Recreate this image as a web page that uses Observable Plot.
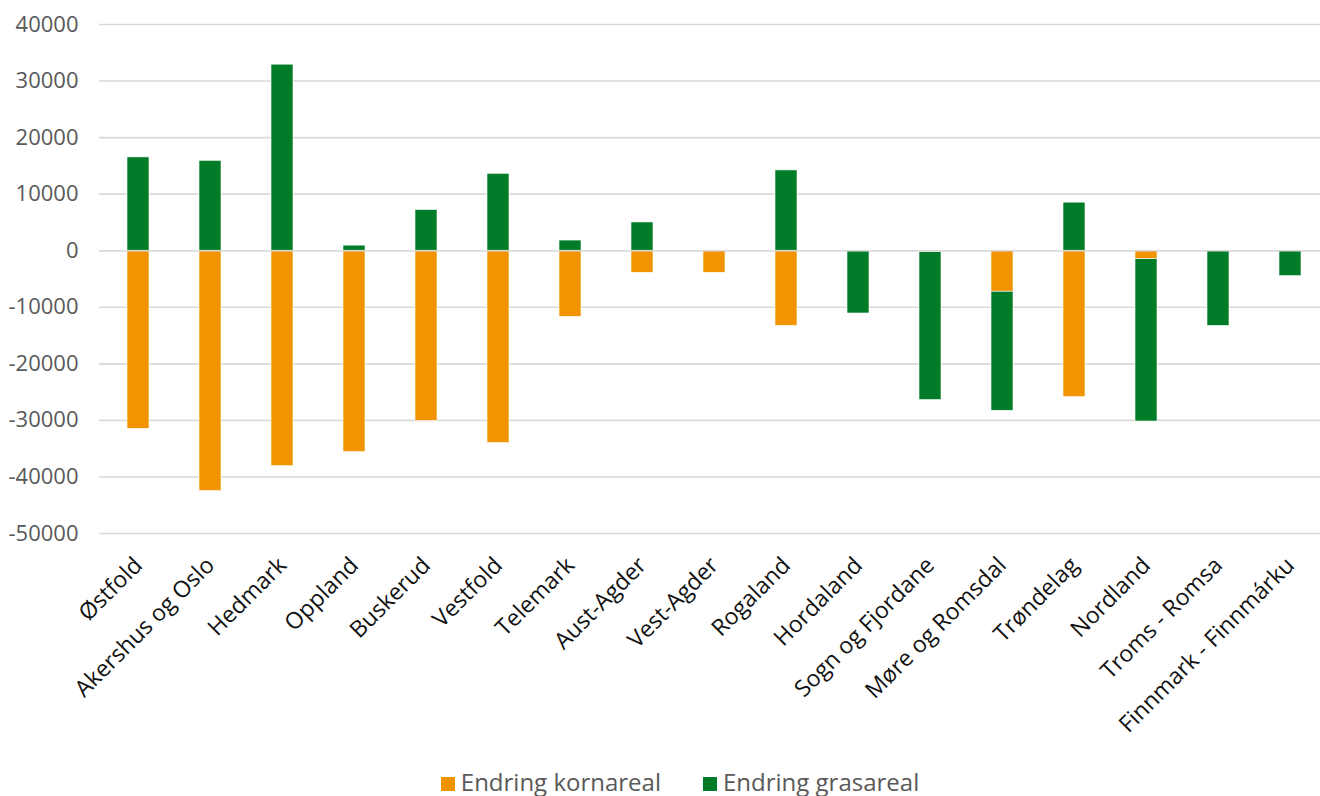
<!DOCTYPE html>
<html><head><meta charset="utf-8">
<script src="https://cdn.jsdelivr.net/npm/d3@7"></script>
<script src="https://cdn.jsdelivr.net/npm/@observablehq/plot@0.6"></script>
<style>
body{margin:0;background:#fff;font-family:"Open Sans",sans-serif;}
#legend{display:flex;justify-content:center;gap:42px;font-size:24px;line-height:33px;color:#595959;margin-top:13px;margin-left:40px}
#legend span.sw{display:inline-block;width:14px;height:14px;margin-right:6px;vertical-align:middle;position:relative;top:-1px}
</style></head><body>
<div id="chart"></div>
<div id="legend"></div>
<script>
const regions = ["Østfold","Akershus og Oslo","Hedmark","Oppland","Buskerud","Vestfold","Telemark","Aust-Agder","Vest-Agder","Rogaland","Hordaland","Sogn og Fjordane","Møre og Romsdal","Trøndelag","Nordland","Troms - Romsa","Finnmark - Finnmárku"];
const kornareal = [-31500,-42500,-38100,-35600,-30100,-34000,-11700,-3900,-3900,-13300,-100,-250,-7250,-25900,-1500,0,0];
const grasareal = [16500,15900,32900,900,7200,13600,1800,5000,0,14200,-11000,-26150,-21050,8500,-28700,-13300,-4500];
const seriesNames = ["Endring kornareal","Endring grasareal"];
const colors = ["#F29400","#007C29"];
const yTicks = [40000,30000,20000,10000,0,-10000,-20000,-30000,-40000,-50000];

const data = [];
regions.forEach((r,i)=>{
  data.push({region:r, series:seriesNames[0], value:kornareal[i]});
  data.push({region:r, series:seriesNames[1], value:grasareal[i]});
});

const plot = Plot.plot({
  width:1320, height:752,
  marginLeft:99, marginRight:-8, marginTop:24, marginBottom:219,
  style:{fontFamily:"'Open Sans', sans-serif", fontSize:"22px", color:"#595959", background:"#fff"},
  x:{domain:regions, paddingInner:0.7, paddingOuter:0.35, label:null, tickSize:0, tickRotate:-45},
  y:{domain:[-50000,40000], ticks:yTicks, label:null, tickFormat:d=>String(d)},
  color:{domain:seriesNames, range:colors},
  marks:[
    Plot.ruleY(yTicks,{stroke:"#d9d9d9", strokeWidth:1.6}),
    Plot.barY(data, Plot.stackY({x:"region", y:"value", fill:"series", order:seriesNames, stroke:"#fff", strokeWidth:0.6})),
    Plot.ruleY([0],{stroke:"#d9d9d9", strokeWidth:1.6}),
    Plot.axisY({ticks:yTicks, tickSize:0, tickPadding:21, tickFormat:d=>String(d), fontSize:22, fill:"#595959", label:null}),
    Plot.axisX({tickSize:0, tickRotate:-45, tickPadding:28, fontSize:23, fill:"#111", label:null})
  ]
});
document.getElementById("chart").appendChild(plot);

const lg = document.getElementById("legend");
seriesNames.forEach((n,i)=>{
  const d = document.createElement("div");
  d.innerHTML = `<span class="sw" style="background:${colors[i]}"></span>${n}`;
  lg.appendChild(d);
});
</script>
</body></html>
